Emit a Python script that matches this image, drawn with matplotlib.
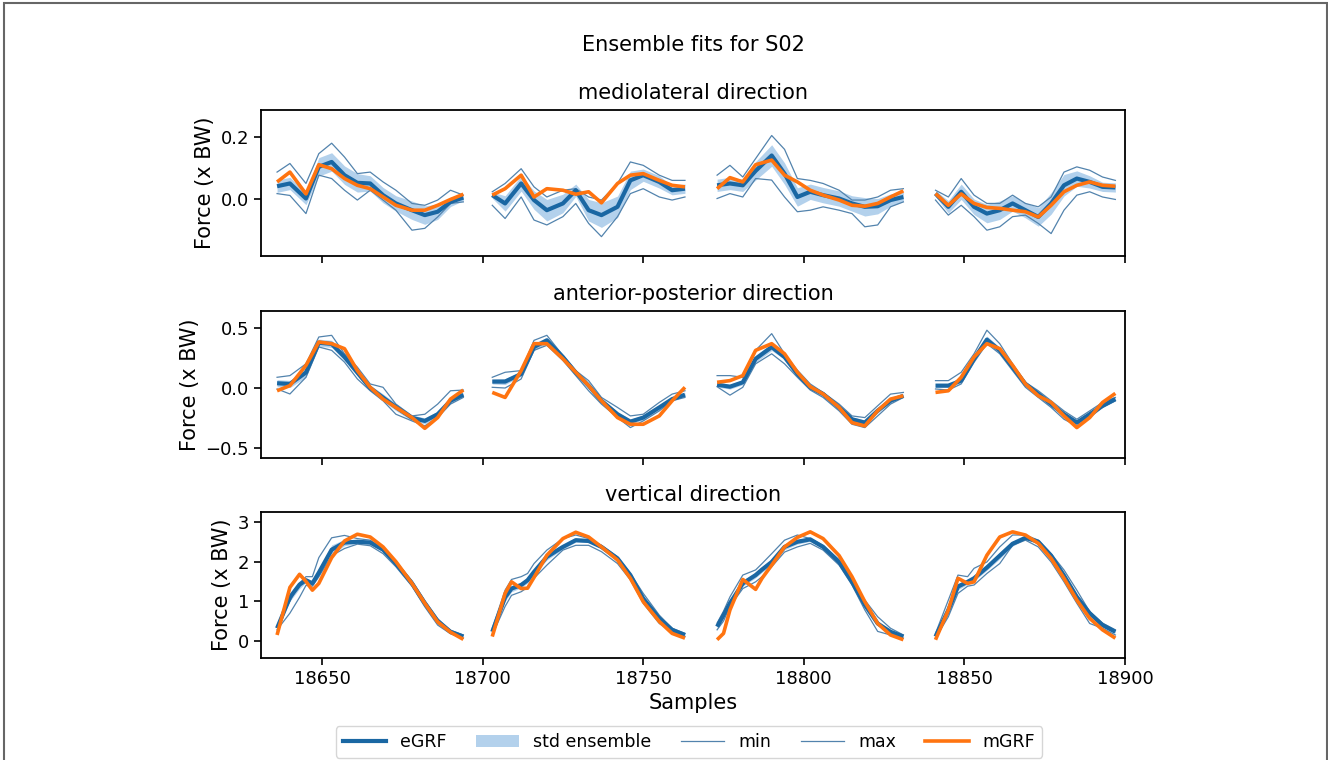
import numpy as np
import matplotlib
matplotlib.use("Agg")
import matplotlib.pyplot as plt
from matplotlib.lines import Line2D
from matplotlib.patches import Patch, Rectangle

# sample positions of each gait cycle (mediolateral / anterior-posterior)
cycle_x = [
    [18636, 18640, 18645, 18649, 18653, 18657, 18661, 18665, 18669, 18673, 18678, 18682, 18686, 18690, 18694],
    [18703, 18707, 18712, 18716, 18720, 18725, 18729, 18733, 18737, 18742, 18746, 18750, 18755, 18759, 18763],
    [18773, 18777, 18781, 18785, 18790, 18794, 18798, 18802, 18806, 18811, 18815, 18819, 18823, 18827, 18831],
    [18841, 18845, 18849, 18853, 18857, 18861, 18865, 18869, 18873, 18877, 18881, 18885, 18889, 18893, 18897],
]
# vertical direction has a few extra samples around the early peak
vert_x = [
    [18636, 18640, 18643, 18645, 18647, 18649, 18653, 18657, 18661, 18665, 18669, 18673, 18678, 18682, 18686, 18690, 18694],
    [18703, 18707, 18709, 18712, 18714, 18716, 18720, 18725, 18729, 18733, 18737, 18742, 18746, 18750, 18755, 18759, 18763],
    [18773, 18775, 18777, 18781, 18785, 18787, 18790, 18794, 18798, 18802, 18806, 18811, 18815, 18819, 18823, 18827, 18831],
    [18841, 18845, 18848, 18851, 18853, 18857, 18861, 18865, 18869, 18873, 18877, 18881, 18885, 18889, 18893, 18897],
]

# mediolateral
ml_egrf = [
    [0.040, 0.049, 0.000, 0.103, 0.119, 0.076, 0.051, 0.049, 0.011, -0.016, -0.038, -0.054, -0.043, -0.011, 0.003],
    [0.011, -0.016, 0.049, -0.005, -0.038, -0.016, 0.027, -0.038, -0.054, -0.027, 0.059, 0.076, 0.054, 0.027, 0.032],
    [0.043, 0.049, 0.043, 0.090, 0.140, 0.081, 0.005, 0.022, 0.011, 0.000, -0.016, -0.027, -0.025, -0.005, 0.005],
    [0.016, -0.027, 0.022, -0.027, -0.049, -0.038, -0.016, -0.038, -0.060, -0.016, 0.043, 0.065, 0.054, 0.038, 0.036],
]
ml_mgrf = [
    [0.054, 0.086, 0.015, 0.110, 0.097, 0.065, 0.043, 0.032, 0.005, -0.022, -0.038, -0.038, -0.022, -0.003, 0.014],
    [0.011, 0.032, 0.076, 0.005, 0.032, 0.027, 0.014, 0.022, -0.014, 0.049, 0.076, 0.081, 0.059, 0.043, 0.038],
    [0.032, 0.068, 0.054, 0.110, 0.125, 0.076, 0.054, 0.027, 0.011, -0.005, -0.022, -0.025, -0.016, 0.005, 0.025],
    [0.016, -0.022, 0.015, -0.016, -0.029, -0.032, -0.038, -0.043, -0.060, -0.022, 0.022, 0.043, 0.054, 0.043, 0.040],
]
ml_max = [
    [0.086, 0.114, 0.049, 0.146, 0.180, 0.135, 0.081, 0.086, 0.054, 0.027, -0.016, -0.022, -0.005, 0.027, 0.011],
    [0.022, 0.049, 0.097, 0.038, 0.005, 0.027, 0.032, 0.005, -0.005, 0.049, 0.119, 0.108, 0.076, 0.059, 0.059],
    [0.076, 0.108, 0.070, 0.130, 0.205, 0.160, 0.065, 0.059, 0.049, 0.027, -0.005, -0.005, 0.005, 0.027, 0.032],
    [0.027, 0.005, 0.065, 0.011, -0.016, -0.016, 0.011, -0.016, -0.027, 0.005, 0.086, 0.103, 0.092, 0.070, 0.059],
]
ml_min = [
    [0.016, 0.010, -0.049, 0.076, 0.065, 0.027, -0.005, 0.027, -0.005, -0.038, -0.103, -0.097, -0.060, -0.016, -0.011],
    [-0.022, -0.065, 0.005, -0.070, -0.086, -0.059, -0.016, -0.081, -0.124, -0.059, 0.016, 0.032, 0.005, -0.005, 0.005],
    [0.000, 0.016, 0.005, 0.065, 0.060, 0.005, -0.043, -0.038, -0.027, -0.038, -0.049, -0.092, -0.086, -0.027, -0.011],
    [-0.005, -0.054, -0.022, -0.059, -0.103, -0.092, -0.059, -0.054, -0.081, -0.114, -0.038, 0.011, 0.022, 0.005, -0.003],
]
ml_std = [
    [0.020, 0.020, 0.020, 0.030, 0.030, 0.030, 0.030, 0.025, 0.025, 0.025, 0.030, 0.030, 0.025, 0.015, 0.010],
    [0.010, 0.025, 0.025, 0.030, 0.035, 0.030, 0.020, 0.035, 0.040, 0.035, 0.030, 0.020, 0.020, 0.015, 0.015],
    [0.020, 0.020, 0.020, 0.030, 0.035, 0.035, 0.030, 0.025, 0.025, 0.025, 0.025, 0.030, 0.025, 0.020, 0.015],
    [0.010, 0.020, 0.025, 0.025, 0.030, 0.030, 0.025, 0.025, 0.030, 0.035, 0.035, 0.025, 0.020, 0.015, 0.015],
]

# anterior-posterior
ap_egrf = [
    [0.040, 0.034, 0.130, 0.380, 0.370, 0.260, 0.130, 0.000, -0.080, -0.160, -0.250, -0.276, -0.220, -0.107, -0.056],
    [0.054, 0.054, 0.118, 0.344, 0.400, 0.260, 0.130, 0.020, -0.107, -0.220, -0.282, -0.248, -0.163, -0.093, -0.056],
    [0.028, 0.011, 0.048, 0.245, 0.344, 0.260, 0.118, 0.006, -0.050, -0.163, -0.262, -0.290, -0.190, -0.107, -0.065],
    [0.020, 0.020, 0.062, 0.245, 0.406, 0.316, 0.175, 0.034, -0.050, -0.135, -0.220, -0.290, -0.220, -0.149, -0.093],
]
ap_mgrf = [
    [-0.023, 0.020, 0.190, 0.386, 0.372, 0.330, 0.146, 0.006, -0.093, -0.163, -0.248, -0.338, -0.248, -0.093, -0.017],
    [-0.037, -0.079, 0.146, 0.372, 0.372, 0.245, 0.132, 0.020, -0.107, -0.248, -0.304, -0.304, -0.234, -0.107, 0.006],
    [0.048, 0.062, 0.104, 0.316, 0.372, 0.287, 0.132, 0.011, -0.050, -0.163, -0.290, -0.318, -0.190, -0.093, -0.065],
    [-0.037, -0.023, 0.090, 0.260, 0.372, 0.330, 0.190, 0.034, -0.065, -0.121, -0.234, -0.332, -0.248, -0.121, -0.045],
]
ap_max = [
    [0.090, 0.104, 0.203, 0.428, 0.442, 0.287, 0.175, 0.034, 0.006, -0.135, -0.234, -0.220, -0.135, -0.023, -0.017],
    [0.090, 0.132, 0.146, 0.400, 0.442, 0.273, 0.146, 0.062, -0.079, -0.163, -0.234, -0.220, -0.121, -0.051, -0.023],
    [0.104, 0.104, 0.090, 0.316, 0.456, 0.287, 0.150, 0.034, -0.037, -0.135, -0.234, -0.248, -0.149, -0.051, -0.037],
    [0.062, 0.062, 0.132, 0.287, 0.485, 0.372, 0.203, 0.048, -0.023, -0.107, -0.192, -0.262, -0.192, -0.121, -0.079],
]
ap_min = [
    [-0.008, -0.050, 0.090, 0.344, 0.316, 0.217, 0.076, -0.023, -0.107, -0.220, -0.276, -0.318, -0.248, -0.135, -0.079],
    [0.006, 0.000, 0.076, 0.316, 0.358, 0.231, 0.104, -0.023, -0.135, -0.248, -0.332, -0.276, -0.192, -0.107, -0.079],
    [0.011, -0.060, 0.006, 0.203, 0.287, 0.203, 0.090, -0.017, -0.079, -0.192, -0.304, -0.332, -0.234, -0.135, -0.079],
    [-0.008, -0.017, 0.034, 0.217, 0.372, 0.287, 0.146, 0.006, -0.079, -0.163, -0.262, -0.318, -0.248, -0.163, -0.107],
]
ap_std = [
    [0.030, 0.030, 0.040, 0.030, 0.030, 0.030, 0.030, 0.025, 0.030, 0.030, 0.025, 0.025, 0.025, 0.020, 0.015],
    [0.020, 0.025, 0.020, 0.030, 0.025, 0.020, 0.020, 0.020, 0.020, 0.020, 0.020, 0.020, 0.020, 0.015, 0.015],
    [0.020, 0.020, 0.020, 0.030, 0.030, 0.020, 0.020, 0.020, 0.020, 0.020, 0.020, 0.020, 0.020, 0.015, 0.015],
    [0.015, 0.015, 0.020, 0.030, 0.030, 0.025, 0.020, 0.015, 0.015, 0.015, 0.020, 0.020, 0.020, 0.015, 0.015],
]

# vertical
vt_egrf = [
    [0.32, 1.10, 1.42, 1.53, 1.45, 1.72, 2.30, 2.48, 2.50, 2.48, 2.30, 1.95, 1.45, 0.95, 0.50, 0.23, 0.11],
    [0.23, 1.10, 1.32, 1.41, 1.53, 1.74, 2.12, 2.37, 2.54, 2.52, 2.37, 2.08, 1.66, 1.07, 0.57, 0.28, 0.15],
    [0.36, 0.65, 0.95, 1.45, 1.66, 1.80, 1.99, 2.37, 2.50, 2.56, 2.37, 1.99, 1.49, 0.91, 0.44, 0.23, 0.11],
    [0.11, 0.78, 1.37, 1.49, 1.58, 1.85, 2.15, 2.45, 2.60, 2.50, 2.15, 1.65, 1.11, 0.70, 0.40, 0.23],
]
vt_mgrf = [
    [0.15, 1.35, 1.68, 1.50, 1.28, 1.45, 2.10, 2.52, 2.69, 2.62, 2.37, 2.00, 1.45, 0.95, 0.48, 0.22, 0.04],
    [0.11, 1.20, 1.49, 1.32, 1.33, 1.60, 2.16, 2.58, 2.74, 2.62, 2.37, 2.04, 1.58, 0.99, 0.49, 0.19, 0.07],
    [0.03, 0.19, 0.78, 1.55, 1.30, 1.58, 1.91, 2.37, 2.61, 2.75, 2.58, 2.15, 1.62, 0.99, 0.44, 0.15, 0.03],
    [0.03, 0.78, 1.58, 1.45, 1.49, 2.16, 2.62, 2.75, 2.67, 2.46, 2.08, 1.58, 1.03, 0.57, 0.28, 0.07],
]
vt_max = [
    [0.38, 1.00, 1.45, 1.62, 1.62, 2.10, 2.60, 2.66, 2.58, 2.54, 2.33, 2.00, 1.52, 1.02, 0.56, 0.27, 0.15],
    [0.32, 1.28, 1.55, 1.62, 1.70, 1.95, 2.29, 2.58, 2.67, 2.58, 2.41, 2.12, 1.70, 1.20, 0.65, 0.32, 0.19],
    [0.45, 0.75, 1.11, 1.66, 1.79, 1.95, 2.20, 2.54, 2.67, 2.58, 2.41, 2.04, 1.53, 1.03, 0.61, 0.32, 0.15],
    [0.19, 1.03, 1.66, 1.62, 1.83, 1.99, 2.37, 2.67, 2.67, 2.54, 2.20, 1.79, 1.28, 0.74, 0.45, 0.28],
]
vt_min = [
    [0.28, 0.70, 1.10, 1.40, 1.38, 1.62, 2.15, 2.33, 2.44, 2.40, 2.20, 1.87, 1.38, 0.86, 0.40, 0.18, 0.07],
    [0.15, 0.87, 1.15, 1.24, 1.35, 1.58, 1.91, 2.29, 2.41, 2.41, 2.25, 1.95, 1.54, 0.95, 0.44, 0.23, 0.11],
    [0.28, 0.50, 0.87, 1.32, 1.49, 1.62, 1.87, 2.24, 2.37, 2.46, 2.29, 1.91, 1.41, 0.78, 0.24, 0.15, 0.07],
    [0.07, 0.61, 1.20, 1.38, 1.41, 1.70, 1.95, 2.41, 2.54, 2.37, 1.99, 1.49, 0.95, 0.44, 0.32, 0.15],
]
vt_std = [
    [0.04, 0.10, 0.10, 0.06, 0.06, 0.10, 0.12, 0.08, 0.05, 0.05, 0.05, 0.04, 0.04, 0.05, 0.05, 0.03, 0.02],
    [0.04, 0.10, 0.08, 0.07, 0.07, 0.08, 0.08, 0.06, 0.05, 0.04, 0.04, 0.04, 0.04, 0.06, 0.06, 0.03, 0.03],
    [0.04, 0.06, 0.07, 0.07, 0.07, 0.07, 0.08, 0.07, 0.06, 0.05, 0.04, 0.04, 0.04, 0.06, 0.05, 0.03, 0.02],
    [0.03, 0.10, 0.08, 0.06, 0.07, 0.07, 0.08, 0.06, 0.04, 0.04, 0.04, 0.05, 0.06, 0.06, 0.04, 0.03],
]

titles = ["mediolateral direction", "anterior-posterior direction", "vertical direction"]

BLUE = "#1a67a3"
BAND = "#b3d1ec"
THIN = "#5283ad"
ORANGE = "#ff7410"

fig = plt.figure(figsize=(13.28, 7.6), dpi=100)
fig.patches.append(Rectangle((4 / 1328, -0.01), 1323 / 1328, 1 - 3 / 760 + 0.01,
                             transform=fig.transFigure, fill=False,
                             edgecolor="#666666", linewidth=1.5))

left, width = 261 / 1328, 864 / 1328
rows = [(110, 256), (311, 458), (512, 658)]
axes = []
for top, bot in rows:
    ax = fig.add_axes([left, 1 - bot / 760, width, (bot - top) / 760])
    axes.append(ax)

panels = [
    (cycle_x, ml_egrf, ml_std, ml_min, ml_max, ml_mgrf),
    (cycle_x, ap_egrf, ap_std, ap_min, ap_max, ap_mgrf),
    (vert_x, vt_egrf, vt_std, vt_min, vt_max, vt_mgrf),
]

for ax, title, (xs, eg, sd, mn, mx, mg) in zip(axes, titles, panels):
    for i in range(4):
        x = np.array(xs[i])
        e = np.array(eg[i])
        s = np.array(sd[i])
        ax.fill_between(x, e - s, e + s, color=BAND, linewidth=0, zorder=1)
        ax.plot(x, mn[i], color=THIN, lw=0.9, zorder=2, solid_joinstyle="round")
        ax.plot(x, mx[i], color=THIN, lw=0.9, zorder=2, solid_joinstyle="round")
        ax.plot(x, e, color=BLUE, lw=3.0, zorder=3, solid_joinstyle="round",
                solid_capstyle="butt")
        ax.plot(x, mg[i], color=ORANGE, lw=2.6, zorder=4, solid_joinstyle="round",
                solid_capstyle="butt")
    ax.set_title(title, fontsize=15, pad=8)
    ax.set_ylabel("Force (x BW)", fontsize=15)
    ax.set_xlim(18631, 18900)
    ax.tick_params(labelsize=13, length=5, width=1.2)
    for sp in ax.spines.values():
        sp.set_linewidth(1.3)

axes[0].set_ylim(-0.187, 0.288)
axes[0].set_yticks([0.0, 0.2])
axes[1].set_ylim(-0.587, 0.646)
axes[1].set_yticks([-0.5, 0.0, 0.5])
axes[2].set_ylim(-0.43, 3.25)
axes[2].set_yticks([0, 1, 2, 3])
for ax in axes:
    ax.set_xticks([18650, 18700, 18750, 18800, 18850, 18900])
for ax in axes[:2]:
    ax.tick_params(labelbottom=False)
axes[2].set_xlabel("Samples", fontsize=15, labelpad=4)

fig.text(693 / 1328, 1 - 45 / 760, "Ensemble fits for S02", ha="center", va="center", fontsize=15)

handles = [
    Line2D([], [], color=BLUE, lw=3.0),
    Patch(facecolor=BAND, edgecolor="none"),
    Line2D([], [], color=THIN, lw=0.9),
    Line2D([], [], color=THIN, lw=0.9),
    Line2D([], [], color=ORANGE, lw=2.6),
]
labels = ["eGRF", "std ensemble", "min", "max", "mGRF"]
fig.legend(handles, labels, loc="center", bbox_to_anchor=(689 / 1328, 1 - 742 / 760),
           ncol=5, fontsize=12.5, frameon=True, handlelength=2.5, columnspacing=1.7,
           borderpad=0.4)

fig.savefig("out.png", dpi=100)
